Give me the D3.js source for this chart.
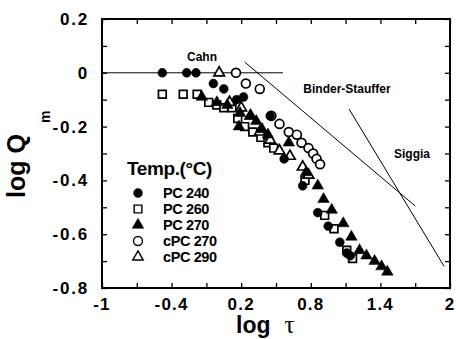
<!DOCTYPE html>
<html>
<head>
<meta charset="utf-8">
<script src="https://cdn.jsdelivr.net/npm/d3@7"></script>
<style>
  body { margin: 0; background: #fff; }
  svg { display: block; font-family: "Liberation Sans", Arial, sans-serif; }
</style>
</head>
<body>
<div id="chart"></div>
<script>
// log tau, log Qm
const pc240 = [[-0.48, 0], [-0.27, 0], [-0.19, 0], [-0.04, -0.04], [0.05, -0.06], [0.16, -0.10],
  [0.22, -0.09], [0.45, -0.16], [0.57, -0.32], [0.73, -0.42], [0.86, -0.52], [0.95, -0.57],
  [1.05, -0.63], [1.11, -0.67], [1.14, -0.68]];
const pc260 = [[-0.48, -0.08], [-0.30, -0.08], [-0.18, -0.08], [-0.08, -0.11], [-0.01, -0.12],
  [0.05, -0.13], [0.12, -0.13], [0.17, -0.17], [0.23, -0.20], [0.30, -0.22], [0.37, -0.24],
  [0.43, -0.26], [0.48, -0.28], [0.75, -0.40], [0.92, -0.53], [1.00, -0.58], [1.11, -0.66],
  [1.16, -0.69]];
const pc270 = [[-0.14, -0.09], [-0.01, -0.11], [0.08, -0.12], [0.19, -0.15], [0.28, -0.16],
  [0.18, -0.20], [0.33, -0.18], [0.38, -0.21], [0.43, -0.23], [0.61, -0.26], [0.76, -0.37],
  [0.86, -0.42], [0.91, -0.47], [0.98, -0.51], [1.08, -0.56], [1.15, -0.61], [1.22, -0.66],
  [1.28, -0.68], [1.35, -0.70], [1.41, -0.72], [1.46, -0.74]];
const cpc270 = [[0.155, 0], [0.24, -0.04], [0.36, -0.06], [0.46, -0.16], [0.53, -0.19],
  [0.61, -0.22], [0.68, -0.23], [0.72, -0.26], [0.78, -0.28], [0.82, -0.30], [0.85, -0.32],
  [0.88, -0.34]];
const cpc290 = [[0.01, 0], [0.10, -0.11], [0.20, -0.13], [0.28, -0.16], [0.36, -0.22],
  [0.45, -0.25], [0.53, -0.29], [0.62, -0.31], [0.73, -0.35], [0.78, -0.38]];

// theory lines
const cahnLine = [[-1, 0], [0.56, 0]];
const binderLine = [[0.23, 0.04], [1.70, -0.495]];
const siggiaLine = [[1.13, -0.135], [1.95, -0.72]];

const xTicks = [-1, -0.7, -0.4, -0.1, 0.2, 0.5, 0.8, 1.1, 1.4, 1.7, 2];
const xTickLabels = [-1, -0.4, 0.2, 0.8, 1.4, 2];
const yTicks = [-0.8, -0.7, -0.6, -0.5, -0.4, -0.3, -0.2, -0.1, 0, 0.1, 0.2];
const yTickLabels = [-0.8, -0.6, -0.4, -0.2, 0, 0.2];

const series = [
  { name: 'PC 260', data: pc260, shape: d3.symbolSquare, filled: false, size: 60 },
  { name: 'cPC 270', data: cpc270, shape: d3.symbolCircle, filled: false, size: 62 },
  { name: 'cPC 290', data: cpc290, shape: d3.symbolTriangle, filled: false, size: 48 },
  { name: 'PC 270', data: pc270, shape: d3.symbolTriangle, filled: true, size: 58 },
  { name: 'PC 240', data: pc240, shape: d3.symbolCircle, filled: true, size: 62 }
];
const legendOrder = ['PC 240', 'PC 260', 'PC 270', 'cPC 270', 'cPC 290'];

const W = 456, H = 339;
const m = { left: 102, right: 450, top: 19, bottom: 288 };

const x = d3.scaleLinear().domain([-1, 2]).range([m.left, m.right]);
const y = d3.scaleLinear().domain([-0.8, 0.2]).range([m.bottom, m.top]);

const svg = d3.select('#chart').append('svg').attr('width', W).attr('height', H);

const fmt = (d) => (d === 0 ? '0' : String(d));

// axes, ticks inward on all sides
function styleAxis(g) {
  g.select('.domain').remove();
  g.selectAll('.tick line').attr('stroke', '#000').attr('stroke-width', 1.3);
}
svg.append('g').attr('transform', `translate(0,${m.bottom})`)
  .call(d3.axisTop(x).tickValues(xTicks).tickSize(5).tickFormat(''))
  .call(styleAxis);
svg.append('g').attr('transform', `translate(0,${m.top})`)
  .call(d3.axisBottom(x).tickValues(xTicks).tickSize(5).tickFormat(''))
  .call(styleAxis);
svg.append('g').attr('transform', `translate(${m.left},0)`)
  .call(d3.axisRight(y).tickValues(yTicks).tickSize(5).tickFormat(''))
  .call(styleAxis);
svg.append('g').attr('transform', `translate(${m.right},0)`)
  .call(d3.axisLeft(y).tickValues(yTicks).tickSize(5).tickFormat(''))
  .call(styleAxis);

svg.append('rect')
  .attr('x', m.left).attr('y', m.top)
  .attr('width', m.right - m.left).attr('height', m.bottom - m.top)
  .attr('fill', 'none').attr('stroke', '#000').attr('stroke-width', 2);

// tick labels
svg.selectAll('.xlab').data(xTickLabels).join('text')
  .attr('x', (d) => x(d)).attr('y', m.bottom + 22)
  .attr('text-anchor', 'middle')
  .attr('font-size', 17).attr('font-weight', 'bold').attr('letter-spacing', 1.2)
  .text(fmt);
svg.selectAll('.ylab').data(yTickLabels).join('text')
  .attr('x', 89).attr('y', (d) => y(d) + 6)
  .attr('text-anchor', 'end')
  .attr('font-size', 17).attr('font-weight', 'bold').attr('letter-spacing', 1.8)
  .text(fmt);

// axis titles
const xt = svg.append('text').attr('x', 236).attr('y', 333)
  .attr('font-size', 23).attr('font-weight', 'bold');
xt.append('tspan').text('log');
xt.append('tspan').attr('dx', 14).attr('font-family', '"Liberation Serif", serif')
  .attr('font-weight', 'normal').attr('font-size', 25).text('τ');

svg.append('text').attr('transform', 'translate(25,198) rotate(-90)')
  .attr('font-size', 25).attr('font-weight', 'bold').text('log Q');
svg.append('text').attr('transform', 'translate(50,123) rotate(-90)')
  .attr('font-size', 14).attr('font-weight', 'bold').text('m');

// theory lines
const line = d3.line().x((d) => x(d[0])).y((d) => y(d[1]));
[cahnLine, binderLine, siggiaLine].forEach((l) => {
  svg.append('path').attr('d', line(l)).attr('fill', 'none')
    .attr('stroke', '#000').attr('stroke-width', 1);
});

const ann = [['Cahn', 202, 61], ['Binder-Stauffer', 347, 93], ['Siggia', 412, 158]];
svg.selectAll('.ann').data(ann).join('text')
  .attr('x', (d) => d[1]).attr('y', (d) => d[2])
  .attr('text-anchor', 'middle')
  .attr('font-size', 12).attr('font-weight', 'bold')
  .text((d) => d[0]);

// data markers
series.forEach((s) => {
  svg.append('g').selectAll('path').data(s.data).join('path')
    .attr('transform', (d) => `translate(${x(d[0])},${y(d[1])})`)
    .attr('d', d3.symbol().type(s.shape).size(s.size))
    .attr('fill', s.filled ? '#000' : '#fff')
    .attr('stroke', '#000').attr('stroke-width', s.filled ? 0.5 : 1.7);
});

// legend
svg.append('text').attr('x', 127).attr('y', 175)
  .attr('font-size', 19).attr('font-weight', 'bold').attr('letter-spacing', -0.4)
  .text('Temp.(°C)');
const lg = svg.append('g');
legendOrder.forEach((name, i) => {
  const s = series.find((e) => e.name === name);
  const cy = 193 + i * 16;
  lg.append('path')
    .attr('transform', `translate(138,${cy})`)
    .attr('d', d3.symbol().type(s.shape).size(s.size))
    .attr('fill', s.filled ? '#000' : '#fff')
    .attr('stroke', '#000').attr('stroke-width', s.filled ? 0.5 : 1.4);
  lg.append('text').attr('x', 163).attr('y', cy + 5)
    .attr('font-size', 14.5).attr('font-weight', 'bold').attr('letter-spacing', -0.4)
    .text(name);
});
</script>
</body>
</html>
